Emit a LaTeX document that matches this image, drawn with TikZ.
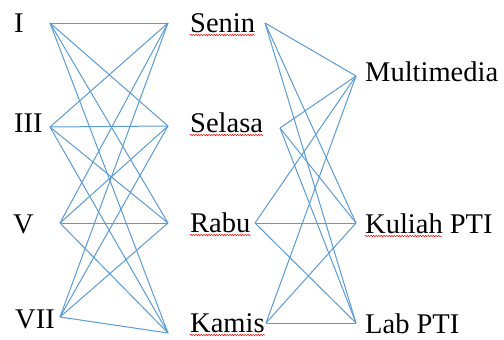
\documentclass[tikz,border=0pt]{standalone}
\usepackage{fontspec}
\setmainfont{Liberation Serif}
\usetikzlibrary{decorations.pathmorphing}
\definecolor{edgeblue}{RGB}{91,155,213}
\tikzset{
  lbl/.style={anchor=base west, inner sep=0pt, font=\fontsize{28.5}{30}\selectfont},
  edge/.style={draw=edgeblue, line width=1pt},
  spell/.style={draw=red, line width=0.5pt, decorate, decoration={snake, amplitude=0.7pt, segment length=2.6pt}}
}
\begin{document}
\begin{tikzpicture}[x=1pt,y=-1pt]
\useasboundingbox (0,0) rectangle (504,340);
% labels
\node[lbl] (tI)   at (14,32)  {I};
\node[lbl] (tIII) at (14,132) {III};
\node[lbl] (tV)   at (13,233) {V};
\node[lbl] (tVII) at (15,328) {VII};
\node[lbl] (sen) at (190,32)  {Senin};
\node[lbl] (sel) at (190,132) {Selasa};
\node[lbl] (rab) at (190,232) {Rabu};
\node[lbl] (kam) at (190,332) {Kamis};
\node[lbl] (mul) at (365,81)  {Multimedia};
\node[lbl] (kul) at (365,233) {Kuliah PTI};
\node[lbl] (lab) at (365,333) {Lab PTI};
% spell-check underlines
\draw[spell] ([yshift=-3pt]sen.base west) -- ([yshift=-3pt]sen.base east);
\draw[spell] ([yshift=-3pt]sel.base west) -- ([yshift=-3pt]sel.base east);
\draw[spell] ([yshift=-3pt]rab.base west) -- ([yshift=-3pt]rab.base east);
\draw[spell] ([yshift=-3pt]kam.base west) -- ([yshift=-3pt]kam.base east);
\draw[spell] ([yshift=-3pt]kul.base west) -- ([yshift=-3pt,xshift=77pt]kul.base west);
% endpoints
\coordinate (pI)   at (50,23);
\coordinate (pIII) at (50,127);
\coordinate (pV)   at (60,223);
\coordinate (pVII) at (60,317);
\coordinate (lSen) at (168,23);
\coordinate (lSel) at (168,126);
\coordinate (lRab) at (168,223);
\coordinate (lKam) at (168,333);
\coordinate (rSen) at (265,23);
\coordinate (rSel) at (280,128);
\coordinate (rRab) at (255,223);
\coordinate (rKam) at (266,323);
\coordinate (pMul) at (356,76);
\coordinate (pKul) at (356,223);
\coordinate (pLab) at (356,323);
% left bipartite
\foreach \a in {pI,pIII,pV,pVII}
  \foreach \b in {lSen,lSel,lRab,lKam}
    \draw[edge] (\a) -- (\b);
% right bipartite
\foreach \a in {rSen,rSel,rRab,rKam}
  \foreach \b in {pMul,pKul,pLab}
    \draw[edge] (\a) -- (\b);
\end{tikzpicture}
\end{document}
